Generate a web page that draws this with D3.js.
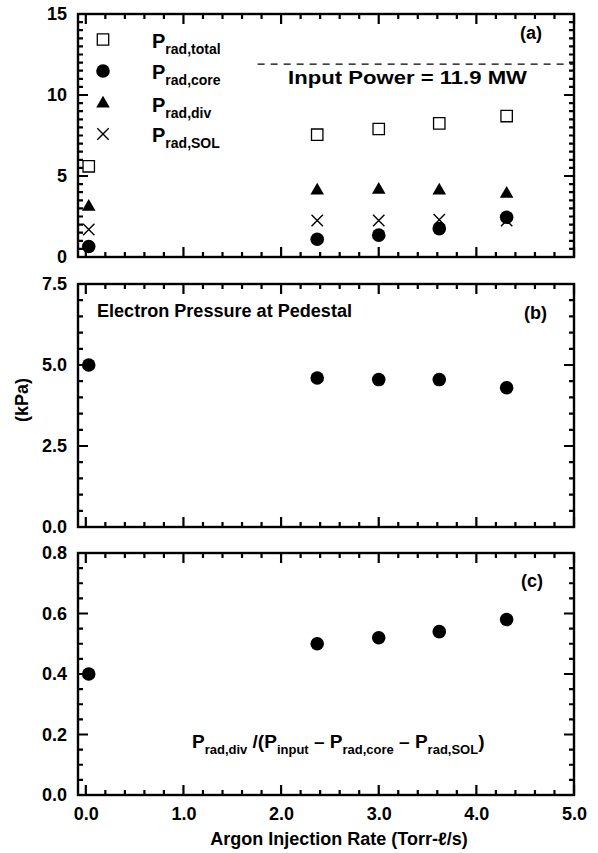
<!DOCTYPE html>
<html>
<head>
<meta charset="utf-8">
<script src="https://cdn.jsdelivr.net/npm/d3@7"></script>
<style>
  body { margin: 0; background: #fff; }
  text { font-family: "Liberation Sans", Arial, sans-serif; font-weight: bold; fill: #000; }
</style>
</head>
<body>
<div class="chart"></div>
<script>
// -----------------------------------------------------------------------
// Data
// -----------------------------------------------------------------------

const argonRate = [0.03, 2.37, 3.0, 3.62, 4.31];

// panel (a), MW
const pRadTotal = [5.6, 7.55, 7.9, 8.25, 8.7];
const pRadCore  = [0.65, 1.1, 1.35, 1.75, 2.45];
const pRadDiv   = [3.1, 4.1, 4.15, 4.1, 3.9];
const pRadSol   = [1.7, 2.25, 2.25, 2.3, 2.25];
const inputPower = 11.9;
const inputLineFrom = 1.76;

// panel (b), kPa
const pedPressure = [5.0, 4.6, 4.55, 4.55, 4.3];

// panel (c)
const divFraction = [0.40, 0.50, 0.52, 0.54, 0.58];

const xTickLabels = ["0.0", "1.0", "2.0", "3.0", "4.0", "5.0"];

// -----------------------------------------------------------------------
// Layout
// -----------------------------------------------------------------------

const WIDTH = 598, HEIGHT = 853;
const LEFT = 78, RIGHT = 574;
const MAJOR = 10, MINOR = 5;

const svg = d3.select(".chart").append("svg")
  .attr("width", WIDTH).attr("height", HEIGHT);

const xScale = d3.scaleLinear().domain([-0.08, 5.0]).range([LEFT, RIGHT]);

// custom "x" marker for d3.symbol
const symbolX = {
  draw(ctx, size) {
    const r = Math.sqrt(size) / 2;
    ctx.moveTo(-r, -r); ctx.lineTo(r, r);
    ctx.moveTo(r, -r); ctx.lineTo(-r, r);
  }
};

const MARKERS = {
  square:   { type: d3.symbolSquare,   size: 130, fill: "none", stroke: "#000", sw: 1.3 },
  circle:   { type: d3.symbolCircle,   size: 145, fill: "#000", stroke: "none", sw: 0 },
  triangle: { type: d3.symbolTriangle, size: 80,  fill: "#000", stroke: "none", sw: 0 },
  cross:    { type: symbolX,           size: 130, fill: "none", stroke: "#000", sw: 1.4 }
};

function drawMarkers(g, xs, ys, yScale, kind) {
  const m = MARKERS[kind];
  g.append("g").selectAll("path")
    .data(xs.map((x, i) => [x, ys[i]]))
    .join("path")
    .attr("transform", d => `translate(${xScale(d[0])},${yScale(d[1])})`)
    .attr("d", d3.symbol().type(m.type).size(m.size))
    .attr("fill", m.fill)
    .attr("stroke", m.stroke)
    .attr("stroke-width", m.sw);
}

const isMult = (v, step) => Math.abs(v / step - Math.round(v / step)) < 1e-6;

// frame + inward ticks on all four sides, one path per panel
function panel(yDomain, yRange, majorY, minorY, yFmt, showX) {
  const yScale = d3.scaleLinear().domain(yDomain).range(yRange);
  const g = svg.append("g");
  const top = yRange[1], bottom = yRange[0];

  const xTicks = d3.range(0, 5.001, 0.2).map(v => ({ v, len: isMult(v, 1) ? MAJOR : MINOR }));
  const yTicks = d3.range(yDomain[0], yDomain[1] + 1e-6, minorY)
    .map(v => ({ v, len: isMult(v, majorY) ? MAJOR : MINOR }));

  const p = d3.path();
  xTicks.forEach(d => {
    const x = xScale(d.v);
    p.moveTo(x, bottom); p.lineTo(x, bottom - d.len);
    p.moveTo(x, top); p.lineTo(x, top + d.len);
  });
  yTicks.forEach(d => {
    const y = yScale(d.v);
    p.moveTo(LEFT, y); p.lineTo(LEFT + d.len, y);
    p.moveTo(RIGHT, y); p.lineTo(RIGHT - d.len, y);
  });
  g.append("path").attr("d", p.toString())
    .attr("fill", "none").attr("stroke", "#000").attr("stroke-width", 2.2);

  g.append("rect")
    .attr("x", LEFT).attr("y", top)
    .attr("width", RIGHT - LEFT).attr("height", bottom - top)
    .attr("fill", "none").attr("stroke", "#000").attr("stroke-width", 2.4);

  // tick labels through d3 axes
  const yl = g.append("g").attr("transform", `translate(${LEFT},0)`)
    .call(d3.axisLeft(yScale).tickValues(d3.range(yDomain[0], yDomain[1] + 1e-6, majorY))
      .tickSize(0).tickPadding(11).tickFormat(yFmt));
  yl.select(".domain").remove();
  yl.selectAll("text").attr("font-size", 18).attr("font-family", "Liberation Sans")
    .attr("font-weight", "bold").attr("fill", "#000");

  if (showX) {
    const xb = g.append("g").attr("transform", `translate(0,${bottom})`)
      .call(d3.axisBottom(xScale).tickValues(d3.range(0, 5.001, 1))
        .tickSize(0).tickPadding(8).tickFormat((d, i) => xTickLabels[i]));
    xb.select(".domain").remove();
    xb.selectAll("text").attr("font-size", 18).attr("font-family", "Liberation Sans")
      .attr("font-weight", "bold").attr("fill", "#000").attr("dy", "0.95em");
  }

  return { g, yScale };
}

// text of big "P" with a subscript, as tspans
function richText(g, x, y, parts, big, small) {
  const t = g.append("text").attr("x", x).attr("y", y);
  let shift = 0;
  parts.forEach(p => {
    const s = t.append("tspan").text(p[0]).attr("font-size", p[1] ? small : big);
    const want = p[1] ? 6 : 0;
    if (want !== shift) { s.attr("dy", want - shift); shift = want; }
  });
  return t;
}

// -----------------------------------------------------------------------
// Panel (a)
// -----------------------------------------------------------------------
const pa = panel([0, 15], [257, 14], 5, 0.5, d3.format("d"), false);

pa.g.append("line")
  .attr("x1", xScale(inputLineFrom)).attr("x2", xScale(5.0))
  .attr("y1", pa.yScale(inputPower)).attr("y2", pa.yScale(inputPower))
  .attr("stroke", "#000").attr("stroke-width", 1.3).attr("stroke-dasharray", "7,6");

pa.g.append("text").attr("x", 288).attr("y", 84).attr("font-size", 18)
  .attr("textLength", 239).attr("lengthAdjust", "spacingAndGlyphs")
  .text("Input Power = 11.9  MW");
pa.g.append("text").attr("x", 520).attr("y", 39).attr("font-size", 18).text("(a)");

drawMarkers(pa.g, argonRate, pRadTotal, pa.yScale, "square");
drawMarkers(pa.g, argonRate, pRadSol, pa.yScale, "cross");
drawMarkers(pa.g, argonRate, pRadDiv, pa.yScale, "triangle");
drawMarkers(pa.g, argonRate, pRadCore, pa.yScale, "circle");

// legend
const legendRows = [
  { kind: "square", sub: "rad,total" },
  { kind: "circle", sub: "rad,core" },
  { kind: "triangle", sub: "rad,div" },
  { kind: "cross", sub: "rad,SOL" }
];
const legendY = [39.5, 71, 103.5, 134];
legendRows.forEach((r, i) => {
  const m = MARKERS[r.kind];
  pa.g.append("path")
    .attr("transform", `translate(103,${legendY[i]})`)
    .attr("d", d3.symbol().type(m.type).size(m.size))
    .attr("fill", m.fill).attr("stroke", m.stroke).attr("stroke-width", m.sw);
  richText(pa.g, 152, legendY[i] + 8, [["P", false], [r.sub, true]], 20, 14);
});

// -----------------------------------------------------------------------
// Panel (b)
// -----------------------------------------------------------------------
const pb = panel([0, 7.5], [527, 284], 2.5, 0.5, d3.format(".1f"), false);
pb.g.append("text").attr("x", 97).attr("y", 317).attr("font-size", 18)
  .attr("textLength", 255).attr("lengthAdjust", "spacingAndGlyphs")
  .text("Electron Pressure at Pedestal");
pb.g.append("text").attr("x", 524).attr("y", 319).attr("font-size", 18).text("(b)");
drawMarkers(pb.g, argonRate, pedPressure, pb.yScale, "circle");

svg.append("text")
  .attr("transform", "translate(28,400) rotate(-90)")
  .attr("text-anchor", "middle").attr("font-size", 18).text("(kPa)");

// -----------------------------------------------------------------------
// Panel (c)
// -----------------------------------------------------------------------
const pc = panel([0, 0.8], [795, 553], 0.2, 0.05, d3.format(".1f"), true);
pc.g.append("text").attr("x", 521).attr("y", 587).attr("font-size", 18).text("(c)");
drawMarkers(pc.g, argonRate, divFraction, pc.yScale, "circle");

richText(pc.g, 192, 748, [
  ["P", false], ["rad,div", true], [" /(", false], ["P", false], ["input", true],
  [" \u2013 ", false], ["P", false], ["rad,core", true], [" \u2013 ", false],
  ["P", false], ["rad,SOL", true], [")", false]
], 19, 13);

svg.append("text")
  .attr("x", 339).attr("y", 845).attr("text-anchor", "middle").attr("font-size", 18)
  .text("Argon Injection Rate (Torr-\u2113/s)");
</script>
</body>
</html>
